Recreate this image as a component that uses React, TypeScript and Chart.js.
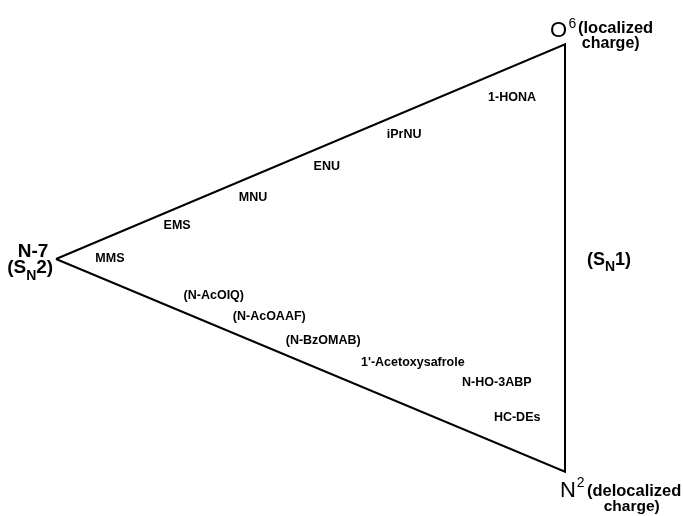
import React, { useEffect, useRef } from "react";
import { Chart, registerables } from "chart.js";

Chart.register(...registerables);

// Triangle vertices: N-7 (left), O6 (top right), N2 (bottom right)
const vertexX = [0, 100, 100, 0];
const vertexY = [0, 42.2, -41.8, 0];

// Agent labels placed inside the triangle
const agentNames = [
  "MMS", "EMS", "MNU", "ENU", "iPrNU", "1-HONA",
  "(N-AcOIQ)", "(N-AcOAAF)", "(N-BzOMAB)", "1'-Acetoxysafrole", "N-HO-3ABP", "HC-DEs",
];
const agentX = [10.6, 23.8, 38.7, 53.2, 68.4, 89.6, 31.0, 41.9, 52.5, 70.1, 86.6, 90.6];
const agentY = [0.1, 6.5, 12.0, 18.1, 24.4, 31.8, -7.2, -11.3, -16.1, -20.3, -24.2, -31.2];

// Vertex annotation labels (runs: text, font size, vertical shift, bold, x gap before)
type Run = { t: string; size: number; dy: number; b: boolean; gap?: number };
const vertexLabelX = [-7.5, -9.6, 97.05, 102.55, 103.3, 99.0, 104.3, 107.6, 104.3];
const vertexLabelY = [0.4, -2.75, 43.6, 44.4, 41.45, -46.75, -46.55, -49.6, -1.2];
const vertexLabelRuns: Run[][] = [
  [{ t: "N-7", size: 19, dy: 0, b: true }],
  [
    { t: "(S", size: 19, dy: 0, b: true },
    { t: "N", size: 14, dy: 7, b: true },
    { t: "2)", size: 19, dy: 0, b: true },
  ],
  [{ t: "O", size: 22, dy: 0, b: false }, { t: "6", size: 14, dy: -9, b: false, gap: 1.5 }],
  [{ t: "(localized", size: 16.5, dy: 0, b: true }],
  [{ t: "charge)", size: 16, dy: 0, b: true }],
  [{ t: "N", size: 22, dy: 0, b: false }, { t: "2", size: 14, dy: -10, b: false, gap: 1 }],
  [{ t: "(delocalized", size: 16.5, dy: 0, b: true }],
  [{ t: "charge)", size: 15.5, dy: 0, b: true }],
  [
    { t: "(S", size: 18, dy: 0, b: true },
    { t: "N", size: 14, dy: 6, b: true },
    { t: "1)", size: 18, dy: 0, b: true },
  ],
];

const FONT = "'Liberation Sans', Arial, sans-serif";

const labelPlugin = {
  id: "triLabels",
  afterDatasetsDraw(chart: any) {
    const ctx = chart.ctx as CanvasRenderingContext2D;
    const xs = chart.scales.x;
    const ys = chart.scales.y;
    ctx.save();
    ctx.fillStyle = "#000";
    // agent labels
    ctx.font = `bold 12.5px ${FONT}`;
    ctx.textAlign = "center";
    ctx.textBaseline = "middle";
    agentNames.forEach((name, i) => {
      ctx.fillText(name, xs.getPixelForValue(agentX[i]), ys.getPixelForValue(agentY[i]));
    });
    // vertex labels
    ctx.textAlign = "left";
    ctx.textBaseline = "alphabetic";
    vertexLabelRuns.forEach((runs, i) => {
      let px = xs.getPixelForValue(vertexLabelX[i]);
      const py = ys.getPixelForValue(vertexLabelY[i]);
      runs.forEach((r) => {
        px += r.gap || 0;
        ctx.font = `${r.b ? "bold " : ""}${r.size}px ${FONT}`;
        ctx.fillText(r.t, px, py + r.dy);
        px += ctx.measureText(r.t).width;
      });
    });
    ctx.restore();
  },
};

export default function App() {
  const ref = useRef<HTMLCanvasElement | null>(null);
  useEffect(() => {
    if (!ref.current) return;
    const chart = new Chart(ref.current, {
      type: "scatter",
      data: {
        datasets: [
          {
            data: vertexX.map((x, i) => ({ x, y: vertexY[i] })),
            showLine: true,
            borderColor: "#000",
            borderWidth: 2,
            pointRadius: 0,
            fill: false,
            tension: 0,
          },
        ],
      },
      options: {
        responsive: false,
        animation: false,
        layout: { padding: 0 },
        plugins: { legend: { display: false }, tooltip: { enabled: false } },
        scales: {
          x: { type: "linear", display: false, min: -11, max: 123.18 },
          y: { type: "linear", display: false, min: -50.5, max: 50.9 },
        },
      },
      plugins: [labelPlugin],
    });
    return () => chart.destroy();
  }, []);
  return (
    <div style={{ position: "fixed", left: 0, top: 0, width: 683, height: 516, background: "#fff" }}>
      <canvas ref={ref} width={683} height={516} />
    </div>
  );
}
